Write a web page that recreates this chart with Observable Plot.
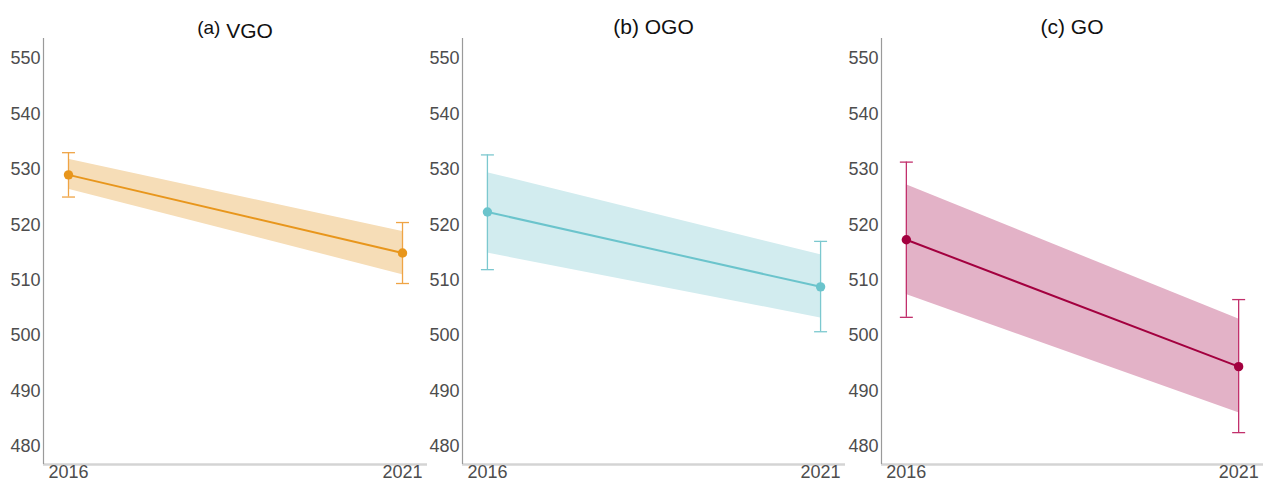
<!DOCTYPE html>
<html>
<head>
<meta charset="utf-8">
<script src="https://cdn.jsdelivr.net/npm/d3@7"></script>
<script src="https://cdn.jsdelivr.net/npm/@observablehq/plot@0.6"></script>
<style>
  html, body { margin: 0; padding: 0; background: #fff; }
  #wrap { position: relative; width: 1263px; height: 482px; overflow: hidden; font-family: "Liberation Sans", Arial, sans-serif; }
  .panel { position: absolute; top: 0; }
  .title { height: 38px; position: relative; color: #111; }
  .title span.t { position: absolute; top: 16px; line-height: 1; transform: translateX(-50%); white-space: nowrap; font-size: 21px; }
  .title span.small { font-size: 19px; position: relative; top: -4px; }
  svg { display: block; overflow: visible; }
</style>
</head>
<body>
<div id="wrap"></div>
<script>
// ---- data ----
const years = [2016, 2021];
const yTicks = [480, 490, 500, 510, 520, 530, 540, 550];
const panelTags = ["(a)", "(b)", "(c)"];
const panelNames = ["VGO", "OGO", "GO"];

const vgoMean   = [529.0, 514.9];
const vgoErrLo  = [525.0, 509.4];
const vgoErrHi  = [533.0, 520.4];
const vgoBandLo = [526.4, 511.0];
const vgoBandHi = [531.8, 518.8];

const ogoMean   = [522.3, 508.8];
const ogoErrLo  = [511.9, 500.7];
const ogoErrHi  = [532.6, 517.0];
const ogoBandLo = [514.9, 503.2];
const ogoBandHi = [529.4, 514.6];

const goMean    = [517.3, 494.4];
const goErrLo   = [503.3, 482.5];
const goErrHi   = [531.3, 506.5];
const goBandLo  = [507.4, 486.1];
const goBandHi  = [527.2, 503.0];

// ---- styles ----
const lineColors = ["#E8961C", "#6BC4CC", "#A3003F"];
const errColors  = ["#EFA445", "#7CC8CF", "#C2306C"];
const bandColors = ["#F6DDB7", "#D2ECEF", "#E3B2C7"];
const layout = [
  {left: 0,   width: 427, marginLeft: 43, titleTop: 20},
  {left: 427, width: 418, marginLeft: 35, titleTop: 16},
  {left: 845, width: 418, marginLeft: 36, titleTop: 16}
];
const yDomain = [476.75, 553.6];
const xPad = 0.374;

const series = [
  [vgoMean, vgoErrLo, vgoErrHi, vgoBandLo, vgoBandHi],
  [ogoMean, ogoErrLo, ogoErrHi, ogoBandLo, ogoBandHi],
  [goMean, goErrLo, goErrHi, goBandLo, goBandHi]
];

const capSymbol = {
  draw(context, size) {
    const r = Math.sqrt(size / Math.PI);
    context.moveTo(-r, 0);
    context.lineTo(r, 0);
  }
};

const wrap = document.getElementById("wrap");
series.forEach(([mean, eLo, eHi, bLo, bHi], i) => {
  const L = layout[i];
  const rows = years.map((yr, k) => ({year: yr, mean: mean[k], eLo: eLo[k], eHi: eHi[k], bLo: bLo[k], bHi: bHi[k]}));
  const panel = document.createElement("div");
  panel.className = "panel";
  panel.style.left = L.left + "px";
  panel.style.width = L.width + "px";

  const title = document.createElement("div");
  title.className = "title";
  const t = document.createElement("span");
  t.className = "t";
  const center = L.marginLeft + (L.width - L.marginLeft) / 2;
  t.style.left = center + "px";
  t.style.top = L.titleTop + "px";
  if (i === 0) {
    t.innerHTML = `<span class="small">${panelTags[i]}</span> ${panelNames[i]}`;
  } else {
    t.textContent = `${panelTags[i]} ${panelNames[i]}`;
  }
  title.appendChild(t);
  panel.appendChild(title);

  const xDomain = [years[0] - xPad, years[1] + xPad];
  const chart = Plot.plot({
    width: L.width,
    height: 444,
    marginLeft: L.marginLeft,
    marginRight: 0,
    marginTop: 0,
    marginBottom: 18,
    style: {fontFamily: "'Liberation Sans', Arial, sans-serif", fontSize: "18px", color: "#4d4d4d", background: "#fff", overflow: "visible"},
    x: {domain: xDomain},
    y: {domain: yDomain},
    marks: [
      Plot.areaY(rows, {x: "year", y1: "bLo", y2: "bHi", fill: bandColors[i], fillOpacity: 1}),
      Plot.ruleX(rows, {x: "year", y1: "eLo", y2: "eHi", stroke: errColors[i], strokeWidth: 1.3}),
      Plot.dot(rows, {x: "year", y: "eLo", symbol: capSymbol, r: 6.5, stroke: errColors[i], strokeWidth: 1.3, fill: "none"}),
      Plot.dot(rows, {x: "year", y: "eHi", symbol: capSymbol, r: 6.5, stroke: errColors[i], strokeWidth: 1.3, fill: "none"}),
      Plot.line(rows, {x: "year", y: "mean", stroke: lineColors[i], strokeWidth: 2}),
      Plot.dot(rows, {x: "year", y: "mean", r: 4.7, fill: lineColors[i], stroke: "none"}),
      Plot.ruleY([yDomain[0]], {x1: xDomain[0], x2: xDomain[1], stroke: "#d4d4d4", strokeWidth: 2.5}),
      Plot.ruleX([xDomain[0]], {y1: yDomain[0], y2: yDomain[1], stroke: "#9a9a9a", strokeWidth: 1.2}),
      Plot.axisY({ticks: yTicks, tickSize: 0, tickPadding: 3, label: null, fill: "#4d4d4d"}),
      Plot.axisX({ticks: years, tickSize: 0, tickPadding: 1, tickFormat: d => String(d), label: null, fill: "#4d4d4d"})
    ]
  });
  panel.appendChild(chart);
  wrap.appendChild(panel);
});
</script>
</body>
</html>
